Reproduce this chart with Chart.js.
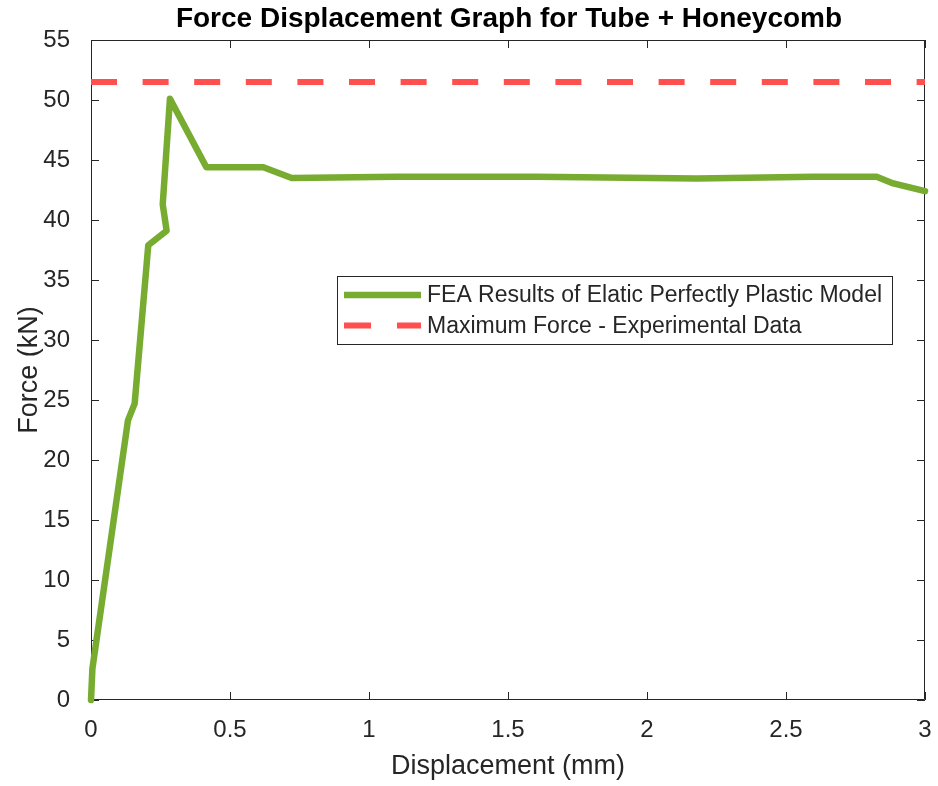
<!DOCTYPE html>
<html>
<head>
<meta charset="utf-8">
<title>Force Displacement Graph for Tube + Honeycomb</title>
<script src="https://cdn.jsdelivr.net/npm/chart.js@4/dist/chart.umd.min.js"></script>
<style>
  html, body { margin: 0; padding: 0; background: #ffffff; }
  #wrap { width: 938px; height: 786px; }
</style>
</head>
<body>
<div id="wrap"><canvas id="chart" width="938" height="786"></canvas></div>
<script>
// FEA force-displacement curve (elastic perfectly plastic material model)
const displacement = [0, 0.005, 0.133, 0.157, 0.206, 0.272, 0.258, 0.284, 0.415, 0.62, 0.722, 1.1, 1.6, 2.18, 2.6, 2.826, 2.886, 3.0];
const force        = [0, 2.6, 23.3, 24.7, 37.9, 39.1, 41.3, 50.1, 44.4, 44.4, 43.5, 43.6, 43.6, 43.45, 43.6, 43.6, 43.05, 42.4];

// Peak force measured in the experiment
const maxForceExperimental = 51.5;
const maxForceSpan = [0, 3];

const xTicks = [0, 0.5, 1, 1.5, 2, 2.5, 3];
const yTicks = [0, 5, 10, 15, 20, 25, 30, 35, 40, 45, 50, 55];

const seriesLabels = ['FEA Results of Elatic Perfectly Plastic Model', 'Maximum Force - Experimental Data'];
const chartTitle = 'Force Displacement Graph for Tube + Honeycomb';

const AXIS_COLOR = '#262626';
const FONT = '"Liberation Sans", Arial, Helvetica, sans-serif';

// Axis box with inward tick marks on all four sides (drawn beneath the data)
const boxPlugin = {
  id: 'boxPlugin',
  beforeDatasetsDraw(chart) {
    const { ctx, chartArea: a, scales } = chart;
    const len = 8;
    ctx.save();
    ctx.strokeStyle = AXIS_COLOR;
    ctx.lineWidth = 1;
    ctx.beginPath();
    ctx.rect(a.left + 0.5, a.top + 0.5, a.right - a.left - 1, a.bottom - a.top - 1);
    scales.x.ticks.forEach(t => {
      const px = Math.round(scales.x.getPixelForValue(t.value)) + 0.5;
      ctx.moveTo(px, a.bottom); ctx.lineTo(px, a.bottom - len);
      ctx.moveTo(px, a.top); ctx.lineTo(px, a.top + len);
    });
    scales.y.ticks.forEach(t => {
      const py = Math.round(scales.y.getPixelForValue(t.value)) + 0.5;
      ctx.moveTo(a.left, py); ctx.lineTo(a.left + len, py);
      ctx.moveTo(a.right, py); ctx.lineTo(a.right - len, py);
    });
    ctx.stroke();
    ctx.restore();
  }
};

// Bold title above the axes
const titlePlugin = {
  id: 'titlePlugin',
  afterDraw(chart) {
    const { ctx } = chart;
    ctx.save();
    ctx.fillStyle = '#000000';
    ctx.font = 'bold 28px ' + FONT;
    ctx.textAlign = 'center';
    ctx.textBaseline = 'middle';
    ctx.fillText(chartTitle, 509, 19);
    ctx.restore();
  }
};

// Boxed legend placed inside the plot area
const legendPlugin = {
  id: 'boxLegend',
  afterDraw(chart) {
    const { ctx } = chart;
    const box = { x: 337.5, y: 276.5, w: 555, h: 68 };
    const rows = [295, 325.5];
    ctx.save();
    ctx.fillStyle = '#ffffff';
    ctx.fillRect(box.x, box.y, box.w, box.h);
    ctx.strokeStyle = AXIS_COLOR;
    ctx.lineWidth = 1;
    ctx.strokeRect(box.x, box.y, box.w, box.h);
    chart.data.datasets.forEach((ds, i) => {
      const y = rows[i];
      ctx.beginPath();
      ctx.strokeStyle = ds.borderColor;
      ctx.lineWidth = ds.borderWidth;
      ctx.lineCap = 'butt';
      ctx.setLineDash(ds.borderDash ? [27, 26] : []);
      ctx.moveTo(344, y);
      ctx.lineTo(421, y);
      ctx.stroke();
      ctx.setLineDash([]);
      ctx.fillStyle = AXIS_COLOR;
      ctx.font = '23px ' + FONT;
      ctx.textAlign = 'left';
      ctx.textBaseline = 'middle';
      ctx.fillText(ds.label, 427, y + 1);
    });
    ctx.restore();
  }
};

const whiteBg = {
  id: 'whiteBg',
  beforeDraw(chart) {
    const { ctx } = chart;
    ctx.save();
    ctx.fillStyle = '#ffffff';
    ctx.fillRect(0, 0, chart.width, chart.height);
    ctx.restore();
  }
};

new Chart(document.getElementById('chart'), {
  type: 'scatter',
  data: {
    datasets: [
      {
        label: seriesLabels[0],
        data: displacement.map((d, i) => ({ x: d, y: force[i] })),
        showLine: true,
        borderColor: '#77AC30',
        borderWidth: 6.5,
        borderJoinStyle: 'round',
        borderCapStyle: 'round',
        pointRadius: 0,
        tension: 0,
        clip: 4
      },
      {
        label: seriesLabels[1],
        data: maxForceSpan.map(d => ({ x: d, y: maxForceExperimental })),
        showLine: true,
        borderColor: '#FF4F4F',
        borderWidth: 6,
        borderDash: [26, 25.6],
        borderCapStyle: 'butt',
        pointRadius: 0
      }
    ]
  },
  options: {
    responsive: false,
    animation: false,
    layout: { padding: { left: 0, right: 13, top: 40, bottom: 0 } },
    plugins: {
      legend: { display: false },
      title: { display: false },
      tooltip: { enabled: false }
    },
    scales: {
      x: {
        type: 'linear',
        min: 0,
        max: 3,
        grid: { display: false },
        border: { display: false },
        afterBuildTicks(scale) { scale.ticks = xTicks.map(v => ({ value: v })); },
        afterFit(scale) { scale.height = 86; scale.paddingLeft = 0; scale.paddingRight = 0; },
        ticks: {
          color: AXIS_COLOR,
          padding: 8,
          maxRotation: 0,
          font: { family: FONT, size: 24 },
          callback: v => String(v)
        },
        title: {
          display: true,
          text: 'Displacement (mm)',
          color: AXIS_COLOR,
          font: { family: FONT, size: 27 },
          padding: { top: 0, bottom: 3 }
        }
      },
      y: {
        type: 'linear',
        min: 0,
        max: 55,
        grid: { display: false },
        border: { display: false },
        afterBuildTicks(scale) { scale.ticks = yTicks.map(v => ({ value: v })); },
        afterFit(scale) { scale.width = 91; scale.paddingTop = 0; scale.paddingBottom = 0; },
        ticks: {
          color: AXIS_COLOR,
          padding: 13,
          font: { family: FONT, size: 24 },
          callback: v => String(v)
        },
        title: {
          display: true,
          text: 'Force (kN)',
          color: AXIS_COLOR,
          font: { family: FONT, size: 27 },
          padding: { top: 13, bottom: 0 }
        }
      }
    }
  },
  plugins: [whiteBg, boxPlugin, legendPlugin, titlePlugin]
});
</script>
</body>
</html>
